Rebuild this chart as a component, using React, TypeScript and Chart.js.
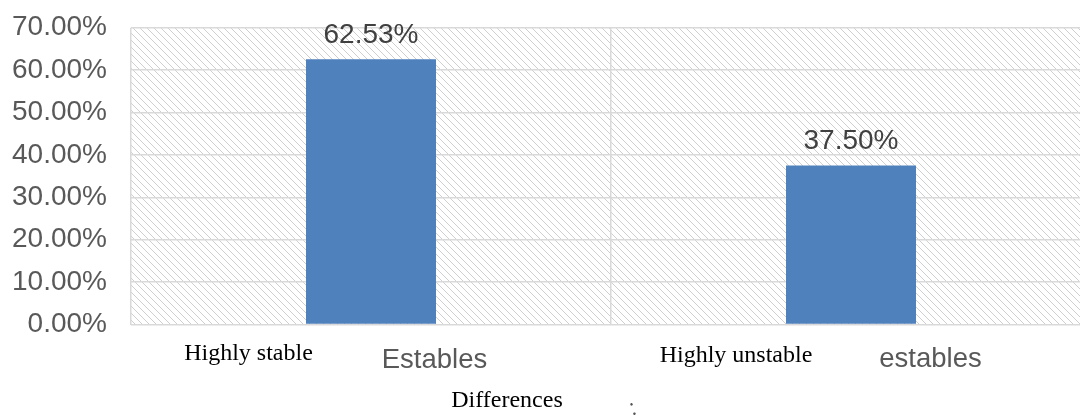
import React, { useEffect, useRef } from "react";
import { Chart, registerables } from "chart.js";

Chart.register(...registerables);

const categories = ["Estables", "estables"];
const overlayLabels = ["Highly stable", "Highly unstable"];
const values = [62.53, 37.5];
const yMin = 0;
const yMax = 70;
const yStep = 10;
const axisTitle = "Differences";

const SANS = "'Liberation Sans', Arial, sans-serif";
const SERIF = "'Liberation Serif', 'Times New Roman', serif";

function makePattern(ctx: CanvasRenderingContext2D) {
  const c = document.createElement("canvas");
  const n = 7;
  c.width = n;
  c.height = n;
  const p = c.getContext("2d")!;
  p.fillStyle = "#ffffff";
  p.fillRect(0, 0, n, n);
  p.fillStyle = "#cfcfcf";
  for (let i = 0; i < n; i++) {
    p.fillRect(i, i, 1, 1);
  }
  return ctx.createPattern(c, "repeat");
}

const bgPlugin = {
  id: "hatchBg",
  beforeDraw(chart: any) {
    const { ctx, chartArea } = chart;
    const pat = makePattern(ctx);
    if (!pat) return;
    ctx.save();
    ctx.fillStyle = pat;
    ctx.fillRect(chartArea.left, chartArea.top, chartArea.right - chartArea.left, chartArea.bottom - chartArea.top);
    ctx.restore();
  },
};

const labelPlugin = {
  id: "labels",
  afterDraw(chart: any) {
    const { ctx, chartArea } = chart;
    const x = chart.scales.x;
    const meta = chart.getDatasetMeta(0);
    ctx.save();
    ctx.font = `28px ${SANS}`;
    ctx.fillStyle = "#404040";
    ctx.textAlign = "center";
    ctx.textBaseline = "alphabetic";
    meta.data.forEach((bar: any, i: number) => {
      ctx.fillText(values[i].toFixed(2) + "%", bar.x, bar.y - 16.5);
    });
    const serifOffsets = [-122.5, -115];
    const sansOffsets = [63.5, 79.5];
    const serifBase = [360, 362];
    const sansBase = [368, 367];
    categories.forEach((cat, i) => {
      const cx = x.getPixelForValue(i);
      ctx.font = `24px ${SERIF}`;
      ctx.fillStyle = "#000000";
      ctx.fillText(overlayLabels[i], cx + serifOffsets[i], serifBase[i]);
      ctx.font = `27.5px ${SANS}`;
      ctx.fillStyle = "#595959";
      ctx.fillText(cat, cx + sansOffsets[i], sansBase[i]);
    });
    ctx.font = `24px ${SERIF}`;
    ctx.fillStyle = "#000000";
    ctx.fillText(axisTitle, chartArea.left + 376, 407);
    ctx.font = `bold 16px ${SANS}`;
    ctx.fillStyle = "#555555";
    ctx.save();
    ctx.translate(chartArea.left + 504, 414);
    ctx.rotate(-0.3);
    ctx.fillText("\u205A", 0, 0);
    ctx.restore();
    ctx.restore();
  },
};

export default function App() {
  const ref = useRef<HTMLCanvasElement>(null);
  useEffect(() => {
    if (!ref.current) return;
    const chart = new Chart(ref.current, {
      type: "bar",
      data: {
        labels: categories,
        datasets: [
          {
            data: values,
            backgroundColor: "#4f81bd",
            borderWidth: 0,
            barPercentage: 130 / 480,
            categoryPercentage: 1,
          },
        ],
      },
      options: {
        responsive: false,
        animation: false,
        devicePixelRatio: 1,
        layout: { padding: { top: 27.7, right: 1, left: 0, bottom: 0 } },
        plugins: { legend: { display: false }, tooltip: { enabled: false }, title: { display: false } },
        scales: {
          x: {
            grid: { display: true, offset: true, color: "#d9d9d9", lineWidth: 1.5, drawTicks: false },
            border: { display: false },
            ticks: { display: false },
            afterFit: (s: any) => {
              s.height = 94.5;
              s.paddingLeft = 0;
              s.paddingRight = 0;
            },
          },
          y: {
            min: yMin,
            max: yMax,
            grid: { color: "#d9d9d9", lineWidth: 1.5, drawTicks: false },
            border: { display: false },
            ticks: {
              stepSize: yStep,
              padding: 24,
              color: "#595959",
              font: { family: SANS, size: 28 },
              callback: (v: any) => Number(v).toFixed(2) + "%",
            },
            afterFit: (s: any) => {
              s.width = 131;
              s.paddingTop = 0;
              s.paddingBottom = 0;
            },
          },
        },
      },
      plugins: [bgPlugin, labelPlugin],
    });
    return () => chart.destroy();
  }, []);
  return (
    <div style={{ position: "fixed", left: 0, top: 0, width: 1080, height: 419, overflow: "hidden", background: "#fff" }}>
      <canvas ref={ref} width={1092} height={419} style={{ display: "block", width: 1092, height: 419 }} />
    </div>
  );
}
